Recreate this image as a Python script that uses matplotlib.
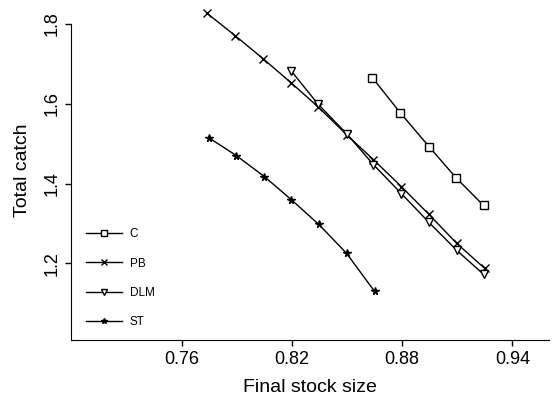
import matplotlib
matplotlib.use("Agg")
import matplotlib.pyplot as plt

plt.rcParams['font.family'] = ['Liberation Sans', 'DejaVu Sans']

# data
c_x = [0.8638, 0.8789, 0.8946, 0.9092, 0.9243]
c_y = [1.665, 1.5775, 1.4925, 1.415, 1.345]

pb_x = [0.7735, 0.7892, 0.8043, 0.8195, 0.8341, 0.8497, 0.8643, 0.8795, 0.8946, 0.9097, 0.9249]
pb_y = [1.8275, 1.77, 1.7125, 1.6525, 1.5925, 1.5225, 1.46, 1.3925, 1.3225, 1.25, 1.1875]

dlm_x = [0.8195, 0.834, 0.8497, 0.8643, 0.8795, 0.8946, 0.9097, 0.9243]
dlm_y = [1.6825, 1.60, 1.525, 1.4475, 1.375, 1.3025, 1.2325, 1.1725]

st_x = [0.7746, 0.7897, 0.8049, 0.8195, 0.8346, 0.8497, 0.8649]
st_y = [1.515, 1.47, 1.4175, 1.36, 1.2975, 1.225, 1.13]

x_ticks = [0.76, 0.82, 0.88, 0.94]
y_ticks = [1.2, 1.4, 1.6, 1.8]

fig = plt.figure(figsize=(5.53, 4.04), dpi=100)
ax = fig.add_axes([0.128, 0.158, 0.865, 0.842])

ax.plot(c_x, c_y, color='black', lw=1, marker='s', ms=6, mfc='white', mec='black', mew=1, label='C')
ax.plot(pb_x, pb_y, color='black', lw=1, marker='x', ms=5.5, mew=1, label='PB')
ax.plot(dlm_x, dlm_y, color='black', lw=1, marker='v', ms=5.5, mfc='white', mec='black', mew=1, label='DLM')
ax.plot(st_x, st_y, color='black', lw=1, marker='*', ms=5.5, label='ST')

ax.set_xlim(0.6995, 0.96)
ax.set_ylim(1.0075, 1.86)
ax.spines['top'].set_visible(False)
ax.spines['right'].set_visible(False)
ax.spines['left'].set_bounds(1.0075, 1.8)

ax.set_xticks(x_ticks)
ax.set_xticklabels([f'{v:.2f}' for v in x_ticks], fontsize=13)
ax.set_yticks(y_ticks)
ax.set_yticklabels([f'{v:.1f}' for v in y_ticks], fontsize=13, rotation=90, va='center')
ax.tick_params(length=4, width=1)

ax.set_xlabel('Final stock size', fontsize=14, labelpad=8)
ax.set_ylabel('Total catch', fontsize=14, labelpad=9)

ax.legend(loc='lower left', bbox_to_anchor=(0.01, 0.005), frameon=False, fontsize=8.5,
          handlelength=3, handletextpad=0.7, labelspacing=1.45, markerscale=0.8)

fig.savefig('out.png', dpi=100)
